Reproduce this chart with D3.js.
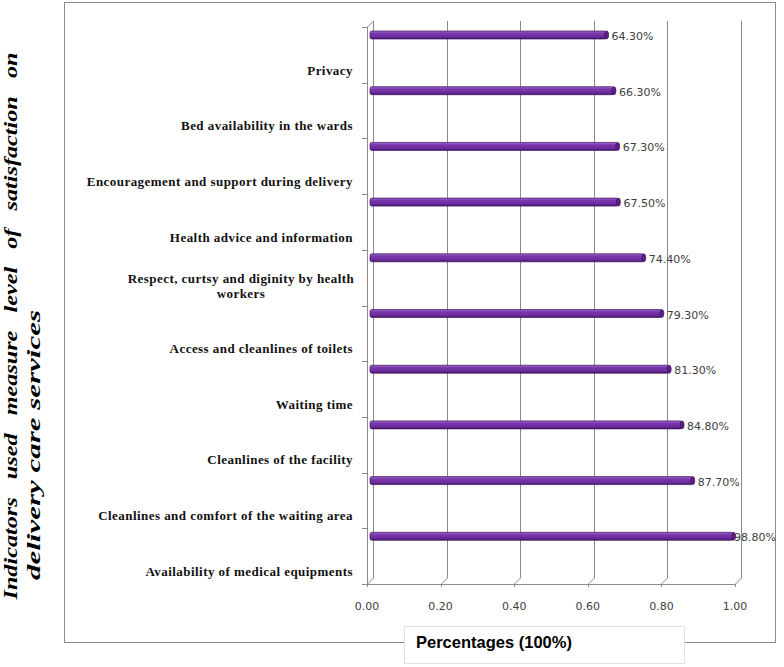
<!DOCTYPE html>
<html>
<head>
<meta charset="utf-8">
<script src="https://cdn.jsdelivr.net/npm/d3@7"></script>
<style>
  html, body { margin: 0; padding: 0; background: #fff; }
  svg { display: block; }
</style>
</head>
<body>
<div id="chart"></div>
<script>
// Indicators, top to bottom as they appear in the chart
const categories = [
  'Privacy',
  'Bed availability in the wards',
  'Encouragement and support during delivery',
  'Health advice and information',
  'Respect, curtsy and diginity by health|workers',
  'Access and cleanlines of toilets',
  'Waiting time',
  'Cleanlines of the facility',
  'Cleanlines and comfort of the waiting area',
  'Availability of medical equipments'
];
const values = [0.643, 0.663, 0.673, 0.675, 0.744, 0.793, 0.813, 0.848, 0.877, 0.988];
const valueLabels = ['64.30%', '66.30%', '67.30%', '67.50%', '74.40%', '79.30%', '81.30%', '84.80%', '87.70%', '98.80%'];
const xTicks = [0, 0.2, 0.4, 0.6, 0.8, 1.0];

const width = 784, height = 667;
const depthX = 6, depthY = -6;   // offset from front plane to back wall
const gridColor = '#8a8a8a';

const svg = d3.select('#chart').append('svg')
  .attr('width', width)
  .attr('height', height);

// outer chart frame
svg.append('rect')
  .attr('x', 64.5).attr('y', 2.5)
  .attr('width', 711).attr('height', 640)
  .attr('fill', 'none')
  .attr('stroke', '#8c8c8c');

// scales (front plane)
const plotTop = 27;
const plotBottom = 584;
const x = d3.scaleLinear().domain([0, 1]).range([367, 735]);
const y = d3.scaleBand().domain(categories).range([plotTop, plotBottom]);

// back wall gridlines + floor connectors
const grid = svg.append('g').attr('stroke', gridColor).attr('stroke-width', 1).attr('fill', 'none');
xTicks.forEach(t => {
  const xf = Math.round(x(t)) + 0.5;
  grid.append('line')
    .attr('x1', xf + depthX).attr('x2', xf + depthX)
    .attr('y1', plotTop + depthY).attr('y2', plotBottom + depthY);
  grid.append('line')
    .attr('x1', xf).attr('y1', plotBottom)
    .attr('x2', xf + depthX).attr('y2', plotBottom + depthY);
  grid.append('line')
    .attr('x1', xf).attr('x2', xf)
    .attr('y1', plotBottom).attr('y2', plotBottom + 3);
});
// front axes
const xf0 = Math.round(x(0)) + 0.5;
grid.append('line')
  .attr('x1', x(0)).attr('x2', x(1))
  .attr('y1', plotBottom + 0.5).attr('y2', plotBottom + 0.5);
grid.append('line')
  .attr('x1', xf0).attr('x2', xf0)
  .attr('y1', plotTop).attr('y2', plotBottom);
grid.append('line')
  .attr('x1', xf0).attr('y1', plotTop)
  .attr('x2', xf0 + depthX).attr('y2', plotTop + depthY);
// left ticks at band boundaries
d3.range(categories.length + 1).forEach(i => {
  const yy = Math.round(plotTop + i * y.bandwidth()) + 0.5;
  grid.append('line')
    .attr('x1', x(0) - 5).attr('x2', x(0))
    .attr('y1', yy).attr('y2', yy);
});

// bar gradient
const defs = svg.append('defs');
const grad = defs.append('linearGradient')
  .attr('id', 'barGrad')
  .attr('x1', 0).attr('y1', 0).attr('x2', 0).attr('y2', 1);
[['0%', '#9d68cc'], ['30%', '#7a38ad'], ['70%', '#6d2c9e'], ['100%', '#48176c']]
  .forEach(([o, c]) => grad.append('stop').attr('offset', o).attr('stop-color', c));

const barH = 8;
const barCenter = c => y(c) + 11 + depthY / 2;
const x0 = x(0) + depthX / 2;
const xb = v => x(v) + depthX / 2;

const bars = svg.append('g');
bars.selectAll('rect')
  .data(categories)
  .join('rect')
  .attr('x', x0)
  .attr('y', c => barCenter(c) - barH / 2)
  .attr('width', (c, i) => xb(values[i]) - x0)
  .attr('height', barH)
  .attr('rx', 2)
  .attr('fill', 'url(#barGrad)')
  .attr('stroke', '#3e1260')
  .attr('stroke-width', 0.7);
bars.selectAll('ellipse')
  .data(categories)
  .join('ellipse')
  .attr('cx', (c, i) => xb(values[i]))
  .attr('cy', c => barCenter(c))
  .attr('rx', 2)
  .attr('ry', barH / 2)
  .attr('fill', '#5c2088')
  .attr('stroke', '#3e1260')
  .attr('stroke-width', 0.7);

// value labels
svg.append('g')
  .selectAll('text')
  .data(categories)
  .join('text')
  .attr('x', (c, i) => Math.min(xb(values[i]) + 5, 734))
  .attr('y', c => barCenter(c) + 1.5)
  .attr('dominant-baseline', 'central')
  .attr('font-family', 'DejaVu Sans, Verdana, sans-serif')
  .attr('font-size', '11px')
  .attr('fill', '#404040')
  .text((c, i) => valueLabels[i]);

// category labels (last line sits near lower part of each band)
const catG = svg.append('g')
  .attr('font-family', 'Liberation Serif, Times New Roman, serif')
  .attr('font-weight', 'bold')
  .attr('font-size', '13px')
  .attr('letter-spacing', '0.45px')
  .attr('fill', '#111');
categories.forEach(c => {
  const lines = c.split('|');
  const yl = y(c) + 43;
  if (lines.length === 1) {
    catG.append('text')
      .attr('x', 353).attr('y', yl)
      .attr('text-anchor', 'end')
      .attr('dominant-baseline', 'central')
      .text(lines[0]);
  } else {
    const t = catG.append('text')
      .attr('text-anchor', 'middle')
      .attr('dominant-baseline', 'central');
    lines.forEach((l, j) => {
      t.append('tspan')
        .attr('x', 241)
        .attr('y', yl - (lines.length - 1 - j) * 15)
        .text(l);
    });
  }
});

// x tick labels
svg.append('g')
  .selectAll('text')
  .data(xTicks)
  .join('text')
  .attr('x', d => x(d))
  .attr('y', 606)
  .attr('text-anchor', 'middle')
  .attr('dominant-baseline', 'central')
  .attr('font-family', 'DejaVu Sans, Verdana, sans-serif')
  .attr('font-size', '11px')
  .attr('fill', '#404040')
  .text(d => d3.format('.2f')(d));

// x axis title box
svg.append('rect')
  .attr('x', 404.5).attr('y', 626.5)
  .attr('width', 280).attr('height', 37)
  .attr('fill', '#fff')
  .attr('stroke', '#e2e2d6');
svg.append('text')
  .attr('x', 416).attr('y', 642)
  .attr('dominant-baseline', 'central')
  .attr('font-family', 'Liberation Sans, Arial, sans-serif')
  .attr('font-weight', 'bold')
  .attr('font-size', '16.5px')
  .attr('fill', '#000')
  .text('Percentages (100%)');

// y axis title, two rotated lines (first line justified)
const yTitle = [
  { text: 'Indicators   used   measure   level   of   satisfaction   on', x: 17, cy: 326, len: 547 },
  { text: 'delivery care services', x: 40, cy: 445, len: 270 }
];
yTitle.forEach(d => {
  svg.append('text')
    .attr('transform', `translate(${d.x},${d.cy}) rotate(-90)`)
    .attr('text-anchor', 'middle')
    .style('white-space', 'pre')
    .attr('font-family', 'Liberation Serif, Times New Roman, serif')
    .attr('font-weight', 'bold')
    .attr('font-style', 'italic')
    .attr('font-size', '19px')
    .attr('fill', '#000')
    .attr('textLength', d.len)
    .attr('lengthAdjust', 'spacingAndGlyphs')
    .text(d.text);
});
</script>
</body>
</html>
